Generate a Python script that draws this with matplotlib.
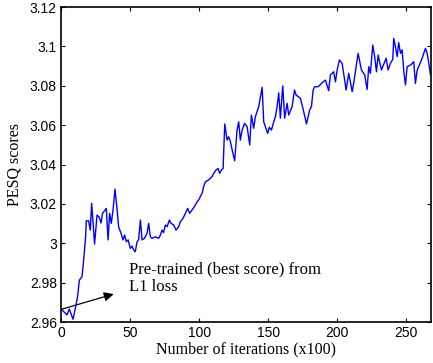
import numpy as np
from matplotlib import pyplot as plt
from matplotlib.ticker import FormatStrFormatter

# PESQ score vs. training iterations (x100)
iters = [0, 4.3, 6.0, 8.7, 10.1, 12.0, 13.3, 15.2, 16.4, 17.8, 18.3, 20.0, 21.2, 22.2,
         24.3, 26.1, 27.5, 29.0, 30.1, 32.8, 34.1, 35.2, 36.4, 37.7, 39.1, 40.6, 41.7,
         43.5, 44.9, 46.1, 47.3, 48.6, 50.2, 51.4, 52.6, 53.8, 55.1, 56.2, 57.5, 58.7,
         60.4, 62.3, 63.5, 64.7, 65.9, 68.3, 70.7, 72.0, 73.2, 74.3, 75.6, 76.8, 78.5,
         79.7, 81.6, 83.3, 85.2, 86.4, 88.4, 90.1, 91.7, 93.2, 94.9, 96.6, 98.6, 99.7,
         100.9, 102.2, 103.3, 104.6, 107.0, 109.4, 110.6, 112.3, 113.8, 114.9, 116.2,
         117.4, 118.6, 120.3, 121.4, 122.7, 124.1, 125.8, 127.5, 128.7, 129.9, 131.2,
         133.0, 134.8, 136.7, 137.9, 139.6, 140.8, 143.2, 145.7, 146.8, 149.7, 150.9,
         152.4, 154.1, 155.3, 156.5, 157.7, 158.9, 160.6, 162.0, 163.8, 164.9, 167.4,
         169.1, 170.3, 173.4, 174.6, 175.8, 177.8, 180.1, 181.4, 182.6, 183.8, 186.2,
         189.9, 191.5, 193.9, 195.1, 197.5, 198.8, 200.0, 201.7, 203.6, 205.1, 206.5,
         208.4, 210.9, 212.0, 215.2, 217.6, 220.0, 221.7, 222.9, 224.1, 225.8, 227.2,
         228.5, 229.7, 232.1, 235.5, 236.9, 238.6, 240.3, 241.0, 242.2, 243.5, 244.6,
         245.9, 247.1, 248.3, 249.5, 250.7, 253.1, 255.5, 256.7, 258.0, 261.1, 264.0,
         265.2, 266.4, 267.6, 269.3]
pesq = [2.9667, 2.9636, 2.9666, 2.9614, 2.9660, 2.9729, 2.9813, 2.9830, 2.9915, 3.0033,
        3.0114, 3.0114, 3.0067, 3.0203, 2.9996, 3.0143, 3.0135, 3.0103, 3.0152, 3.0177,
        3.0017, 3.0152, 3.0101, 3.0169, 3.0275, 3.0172, 3.0084, 3.0050, 3.0017, 3.0042,
        3.0008, 3.0017, 2.9974, 2.9986, 2.9966, 2.9957, 3.0008, 3.0017, 3.0118, 3.0017,
        3.0025, 3.0050, 3.0101, 3.0033, 3.0025, 3.0033, 3.0025, 3.0042, 3.0067, 3.0054,
        3.0093, 3.0084, 3.0118, 3.0101, 3.0093, 3.0067, 3.0084, 3.0109, 3.0127, 3.0152,
        3.0177, 3.0152, 3.0169, 3.0186, 3.0211, 3.0220, 3.0237, 3.0254, 3.0288, 3.0312,
        3.0322, 3.0339, 3.0355, 3.0372, 3.0380, 3.0355, 3.0372, 3.0380, 3.0606, 3.0524,
        3.0541, 3.0516, 3.0470, 3.0419, 3.0575, 3.0617, 3.0524, 3.0575, 3.0609, 3.0592,
        3.0499, 3.0651, 3.0584, 3.0643, 3.0694, 3.0792, 3.0617, 3.0558, 3.0589, 3.0575,
        3.0617, 3.0643, 3.0694, 3.0764, 3.0635, 3.0799, 3.0635, 3.0711, 3.0651, 3.0694,
        3.0778, 3.0753, 3.0736, 3.0702, 3.0668, 3.0606, 3.0677, 3.0694, 3.0778, 3.0795,
        3.0795, 3.0820, 3.0829, 3.0775, 3.0855, 3.0871, 3.0820, 3.0880, 3.0931, 3.0914,
        3.0846, 3.0778, 3.0863, 3.0770, 3.0812, 3.0965, 3.0880, 3.0855, 3.0781, 3.0897,
        3.0863, 3.1007, 3.0948, 3.0871, 3.0956, 3.0880, 3.0940, 3.0880, 3.0914, 3.0934,
        3.1041, 3.0999, 3.0948, 3.1019, 3.0965, 3.0982, 3.0871, 3.0804, 3.0897, 3.0905,
        3.0922, 3.0812, 3.0880, 3.0931, 3.0990, 3.0965, 3.0914, 3.0855, 3.0846]

x_ticks = [0, 50, 100, 150, 200, 250]
y_ticks = [2.96, 2.98, 3.00, 3.02, 3.04, 3.06, 3.08, 3.10, 3.12]

serif = ['Liberation Serif', 'DejaVu Serif']
sans = ['Liberation Sans', 'DejaVu Sans']

fig = plt.figure(figsize=(4.33, 3.63), dpi=100)
ax = fig.add_axes([0.1409, 0.1129, 0.8545, 0.8678])

ax.plot(iters, pesq, color='#0000ff', linewidth=1.0)

ax.set_xlim(0, 268)
ax.set_ylim(2.96, 3.12)
ax.set_xticks(x_ticks)
ax.set_yticks(y_ticks)
ax.yaxis.set_major_formatter(FormatStrFormatter('%g'))
ax.tick_params(direction='in', top=True, right=True, length=3, width=0.8,
               labelsize=10, pad=3)
for lbl in ax.get_xticklabels() + ax.get_yticklabels():
    lbl.set_family(sans)
for s in ax.spines.values():
    s.set_linewidth(1.2)

ax.set_xlabel('Number of iterations (x100)', family=serif, fontsize=11.5, labelpad=1)
ax.set_ylabel('PESQ scores', family=serif, fontsize=11.5, labelpad=5)

ax.annotate('', xy=(38.1, 2.9742), xytext=(0.5, 2.9665),
            arrowprops=dict(arrowstyle='-|>', color='black', lw=0.9,
                            mutation_scale=14, shrinkA=0, shrinkB=0))
ax.text(49.5, 2.9823, 'Pre-trained (best score) from\nL1 loss', family=serif,
        fontsize=12, va='center', ha='left', linespacing=1.2)

fig.savefig('out.png', dpi=100)
